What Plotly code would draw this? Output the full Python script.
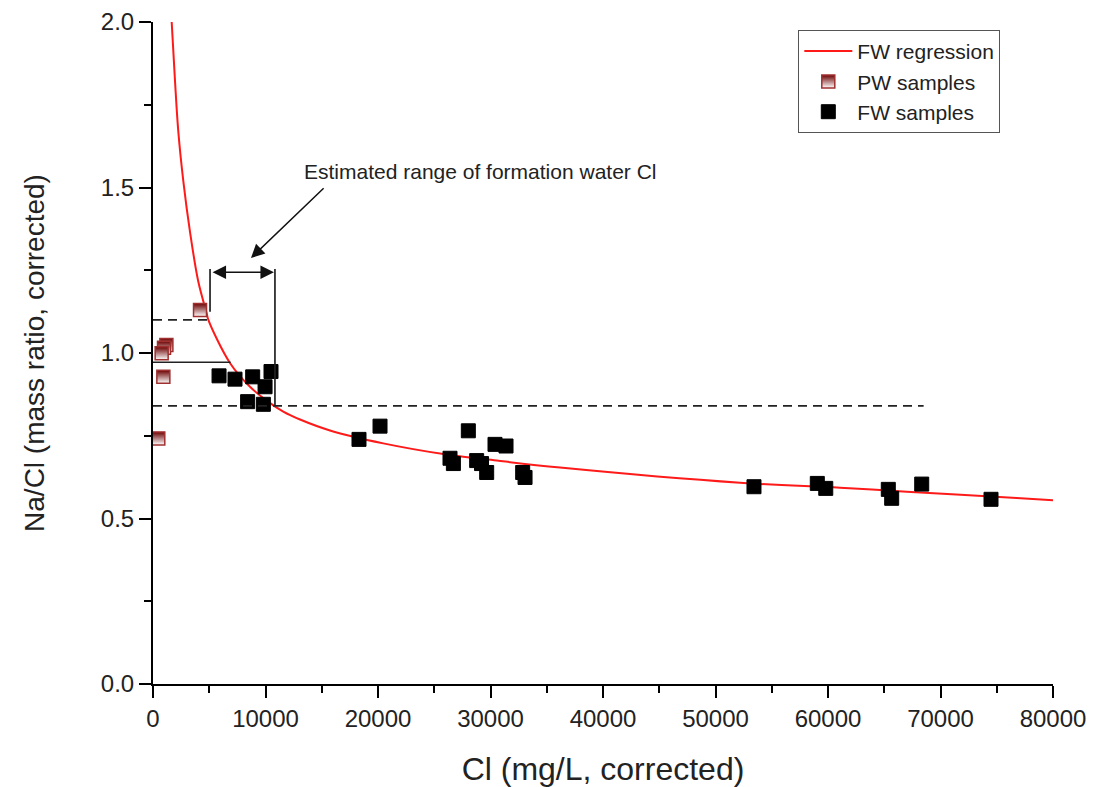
import plotly.graph_objects as go

# FW regression curve
curve_x = [1660, 1960, 2250, 2700, 3290, 4030, 4770, 4920, 6840, 8620, 10100,
           11580, 13070, 15730, 20470, 25960, 30550, 36180, 52180, 61070, 67000, 76770, 80000]
curve_y = [2.0, 1.82, 1.669, 1.518, 1.366, 1.215, 1.12, 1.10, 0.97, 0.898, 0.856,
           0.823, 0.799, 0.766, 0.727, 0.694, 0.675, 0.654, 0.608, 0.593, 0.581, 0.562, 0.555]

# PW samples
pw_x = [4180, 1190, 980, 770, 920, 470]
pw_y = [1.130, 1.024, 1.016, 0.999, 0.928, 0.742]

# FW samples
fw_x = [5870, 7290, 8860, 10490, 9960, 8410, 9810, 18310, 20180, 28030, 26400, 26700,
        28770, 29200, 29660, 30400, 31380, 32860, 33070, 53420, 59050, 59800, 65360,
        65660, 68330, 74490]
fw_y = [0.931, 0.921, 0.928, 0.944, 0.898, 0.853, 0.845, 0.739, 0.779, 0.765, 0.682, 0.666,
        0.675, 0.666, 0.639, 0.724, 0.719, 0.639, 0.624, 0.596, 0.606, 0.591, 0.588,
        0.561, 0.604, 0.558]

# reference lines (value, start, end)
upper_dash = (1.10, 0, 5070)
mid_solid = (0.972, 0, 6900)
lower_dash = (0.84, 0, 68500)
range_left = (5070, 1.125, 1.254)
range_right = (10840, 0.84, 1.254)
range_arrow_y = 1.244
note_text = "Estimated range of formation water Cl"
note_pos = (13240, 1.547)
note_arrow_tail = (15300, 1.502)
note_arrow_head = (8710, 1.287)

x_ticks = [0, 10000, 20000, 30000, 40000, 50000, 60000, 70000, 80000]
y_ticks = [0.0, 0.5, 1.0, 1.5, 2.0]

FONT = "Liberation Sans, Arial, sans-serif"

fig = go.Figure()
fig.add_trace(go.Scatter(x=curve_x, y=curve_y, mode="lines", name="FW regression",
                         line=dict(color="#ff1a1a", width=2, shape="spline", smoothing=1.0)))
fig.add_trace(go.Scatter(x=pw_x, y=pw_y, mode="markers", name="PW samples",
                         marker=dict(symbol="square", size=13, color="#6a0000",
                                     gradient=dict(type="vertical", color="white"),
                                     line=dict(color="#a03030", width=1.5))))
fig.add_trace(go.Scatter(x=fw_x, y=fw_y, mode="markers", name="FW samples",
                         marker=dict(symbol="square", size=14, color="black",
                                     line=dict(color="black", width=1))))

shapes = []
for (yv, x0, x1), dash in [(upper_dash, "dash"), (mid_solid, "solid"), (lower_dash, "dash")]:
    shapes.append(dict(type="line", xref="x", yref="y", x0=x0, x1=x1, y0=yv, y1=yv,
                       line=dict(color="#222", width=1.7, dash=dash if dash == "solid" else "9px,6px")))
for xv, y0, y1 in [range_left, range_right]:
    shapes.append(dict(type="line", xref="x", yref="y", x0=xv, x1=xv, y0=y0, y1=y1,
                       line=dict(color="#222", width=1.7)))

annotations = [
    dict(x=range_right[0], y=range_arrow_y, ax=range_left[0], ay=range_arrow_y,
         xref="x", yref="y", axref="x", ayref="y", text="", showarrow=True,
         arrowhead=2, startarrowhead=2, arrowside="end+start", arrowsize=1.8,
         startarrowsize=1.8, arrowwidth=1.5, arrowcolor="#111", standoff=1, startstandoff=1),
    dict(x=note_arrow_head[0], y=note_arrow_head[1], ax=note_arrow_tail[0], ay=note_arrow_tail[1],
         xref="x", yref="y", axref="x", ayref="y", text="", showarrow=True,
         arrowhead=2, arrowsize=1.8, arrowwidth=1.5, arrowcolor="#111"),
    dict(x=note_pos[0], y=note_pos[1], xref="x", yref="y", text=note_text, showarrow=False,
         xanchor="left", yanchor="middle", font=dict(family=FONT, size=21, color="#222")),
]

fig.update_layout(
    width=1090, height=779,
    margin=dict(l=145, r=45, t=14, b=103, autoexpand=False),
    paper_bgcolor="white", plot_bgcolor="white",
    font=dict(family=FONT, color="#222"),
    shapes=shapes, annotations=annotations,
    legend=dict(x=0.717, y=0.988, xanchor="left", yanchor="top",
                bordercolor="#555", borderwidth=1, bgcolor="white", itemwidth=48,
                font=dict(family=FONT, size=21, color="#222"), tracegroupgap=0),
    xaxis=dict(range=[0, 80000], tickvals=x_ticks, ticktext=[str(v) for v in x_ticks],
               automargin=False,
               showgrid=False, zeroline=False, showline=True, linecolor="black", linewidth=2,
               ticks="outside", ticklen=12, tickwidth=2, tickcolor="black",
               minor=dict(dtick=5000, ticks="outside", ticklen=7, tickwidth=2, tickcolor="black"),
               tickfont=dict(family=FONT, size=24, color="#222"),
               title=dict(text="Cl (mg/L, corrected)", font=dict(family=FONT, size=32, color="#222"),
                          standoff=30)),
    yaxis=dict(range=[0, 2], tickvals=y_ticks, ticktext=[f"{v:.1f}" for v in y_ticks],
               automargin=False,
               showgrid=False, zeroline=False, showline=True, linecolor="black", linewidth=2,
               ticks="outside", ticklen=12, tickwidth=2, tickcolor="black",
               minor=dict(dtick=0.25, ticks="outside", ticklen=7, tickwidth=2, tickcolor="black"),
               tickfont=dict(family=FONT, size=24, color="#222"),
               title=dict(text="Na/Cl (mass ratio, corrected)",
                          font=dict(family=FONT, size=28, color="#222"), standoff=48)),
)

fig.write_html("out.html")
